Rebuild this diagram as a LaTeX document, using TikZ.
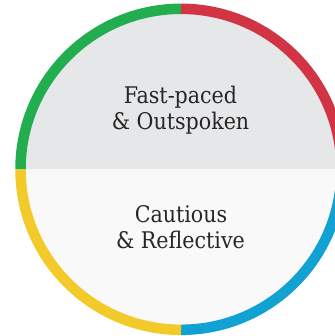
\documentclass[tikz,border=0pt]{standalone}
\usepackage{fontspec}
\newfontfamily\slabfont{DejaVu Serif Condensed}
\definecolor{ringgreen}{HTML}{22AE4F}
\definecolor{ringred}{HTML}{D13543}
\definecolor{ringyellow}{HTML}{F2CB2B}
\definecolor{ringblue}{HTML}{12A1D3}
\definecolor{topfill}{HTML}{E6E7E9}
\definecolor{botfill}{HTML}{F9F9F9}
\definecolor{txt}{HTML}{262626}
\begin{document}
\begin{tikzpicture}[x=1bp,y=-1bp,
  ring/.style={line width=10.5bp},
  label/.style={anchor=base,inner sep=0pt,text=txt,font=\slabfont\fontsize{23}{26}\selectfont}]
\useasboundingbox (0,0) rectangle (335,336);
\clip (0,0) rectangle (335,336);
\coordinate (c) at (181,169.3);
% halves (y axis points down: angle 270 is up, 90 is down)
\fill[topfill] (c) ++(-161,0) arc[start angle=180,end angle=360,radius=161] -- cycle;
\fill[botfill] (c) ++(161,0) arc[start angle=0,end angle=180,radius=161] -- cycle;
% ring quarters
\draw[ring,ringgreen] (c) ++(-160.5,0) arc[start angle=180,end angle=270,radius=160.5];
\draw[ring,ringred] (c) ++(0,-160.5) arc[start angle=270,end angle=360,radius=160.5];
\draw[ring,ringblue] (c) ++(160.5,0) arc[start angle=0,end angle=90,radius=160.5];
\draw[ring,ringyellow] (c) ++(0,160.5) arc[start angle=90,end angle=180,radius=160.5];
% texts
\node[label] (t1) at (180.5,103) {Fast-paced};
\node[label] (t2) at (180.5,129.5) {\& Outspoken};
\node[label] (t3) at (181,222) {Cautious};
\node[label] (t4) at (180.5,248) {\& Reflective};
\end{tikzpicture}
\end{document}
